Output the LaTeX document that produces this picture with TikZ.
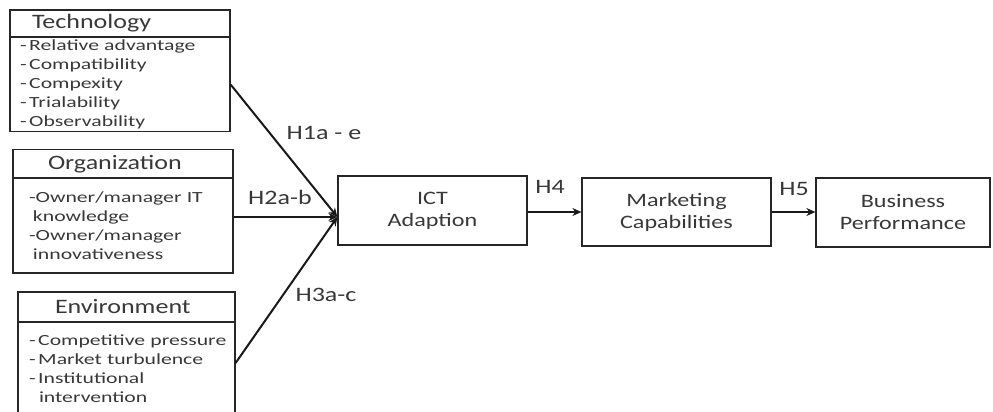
\documentclass[tikz,border=0pt]{standalone}
\usepackage{fontspec}
\setmainfont{Carlito}[FakeStretch=1.27]
\newfontfamily\listfont{Carlito}[FakeStretch=1.4]
\usetikzlibrary{arrows.meta,calc}
\begin{document}
\begin{tikzpicture}[x=1pt,y=-1pt,
  box/.style={draw=black!85, line width=1.2pt, inner sep=0pt, text=black!78},
  hdr/.style={box, font=\fontsize{20.5}{22}\selectfont, align=left, text width=200pt},
  lst/.style={box, font=\listfont\fontsize{15.5}{19}\selectfont, align=left,
    execute at begin node={\hyphenpenalty=10000\exhyphenpenalty=10000}},
  main/.style={box, font=\fontsize{19}{22}\selectfont, align=center},
  lab/.style={text=black!78, font=\fontsize{20.5}{22}\selectfont, inner sep=0pt},
  arr/.style={draw=black!90, line width=2pt, -{Stealth[length=9pt,width=8pt]}}
]
\useasboundingbox (0,0) rectangle (993,412);
% Technology
\node[hdr, minimum height=27pt, text width=198pt, inner xsep=11pt] (techh) at (120,23.5) {\hspace{11pt}Technology};
\node[lst, minimum height=94pt, text width=200pt, inner xsep=10pt] (techb) at (120,84.5) {-\,Relative advantage\\-\,Compatibility\\-\,Compexity\\-\,Trialability\\-\,Observability};
% Organization
\node[hdr, minimum height=29pt, text width=200pt, inner xsep=10pt] (orgh) at (123,164) {\hspace{25pt}Organization};
\node[lst, minimum height=95pt, text width=188pt, inner xsep=16pt] (orgb) at (123,225.5) {-Owner/manager IT\\\hspace{4pt}knowledge\\-Owner/manager\\\hspace{4pt}innovativeness};
% Environment
\node[hdr, minimum height=30pt, text width=197pt, inner xsep=10pt] (envh) at (126.5,307) {\hspace{27pt}Environment};
\node[lst, minimum height=94pt, text width=195pt, inner xsep=11pt] (envb) at (126.5,369) {\mbox{-\,Competitive pressure}\\-\,Market turbulence\\-\,Institutional\\\hspace{10pt}intervention};
% Main chain
\node[main, minimum width=189pt, minimum height=69pt] (ict) at (432.5,210.5) {ICT\\Adaption};
\node[main, minimum width=189pt, minimum height=68pt] (mkt) at (676.5,212) {Marketing\\Capabilities};
\node[main, minimum width=174pt, minimum height=69pt] (bus) at (903,212.5) {Business\\Performance};
% Arrows
\coordinate (tip) at ($(ict.west)+(0,6.5)$);
\draw[arr] (techb.east) -- (tip);
\draw[arr] (orgb.east |- tip) -- (tip);
\draw[arr] ($(envb.east)+(0,-6)$) -- (tip);
\draw[arr] (ict.east |- mkt.west) -- (mkt.west);
\draw[arr] (mkt.east) -- (bus.west |- mkt.east);
% Labels
\node[lab] (h1) at (324,133) {H1a - e};
\node[lab] (h2) at (280,197) {H2a-b};
\node[lab] (h3) at (326,295) {H3a-c};
\node[lab] (h4) at (550,187) {H4};
\node[lab] (h5) at (794,189) {H5};
\end{tikzpicture}
\end{document}
